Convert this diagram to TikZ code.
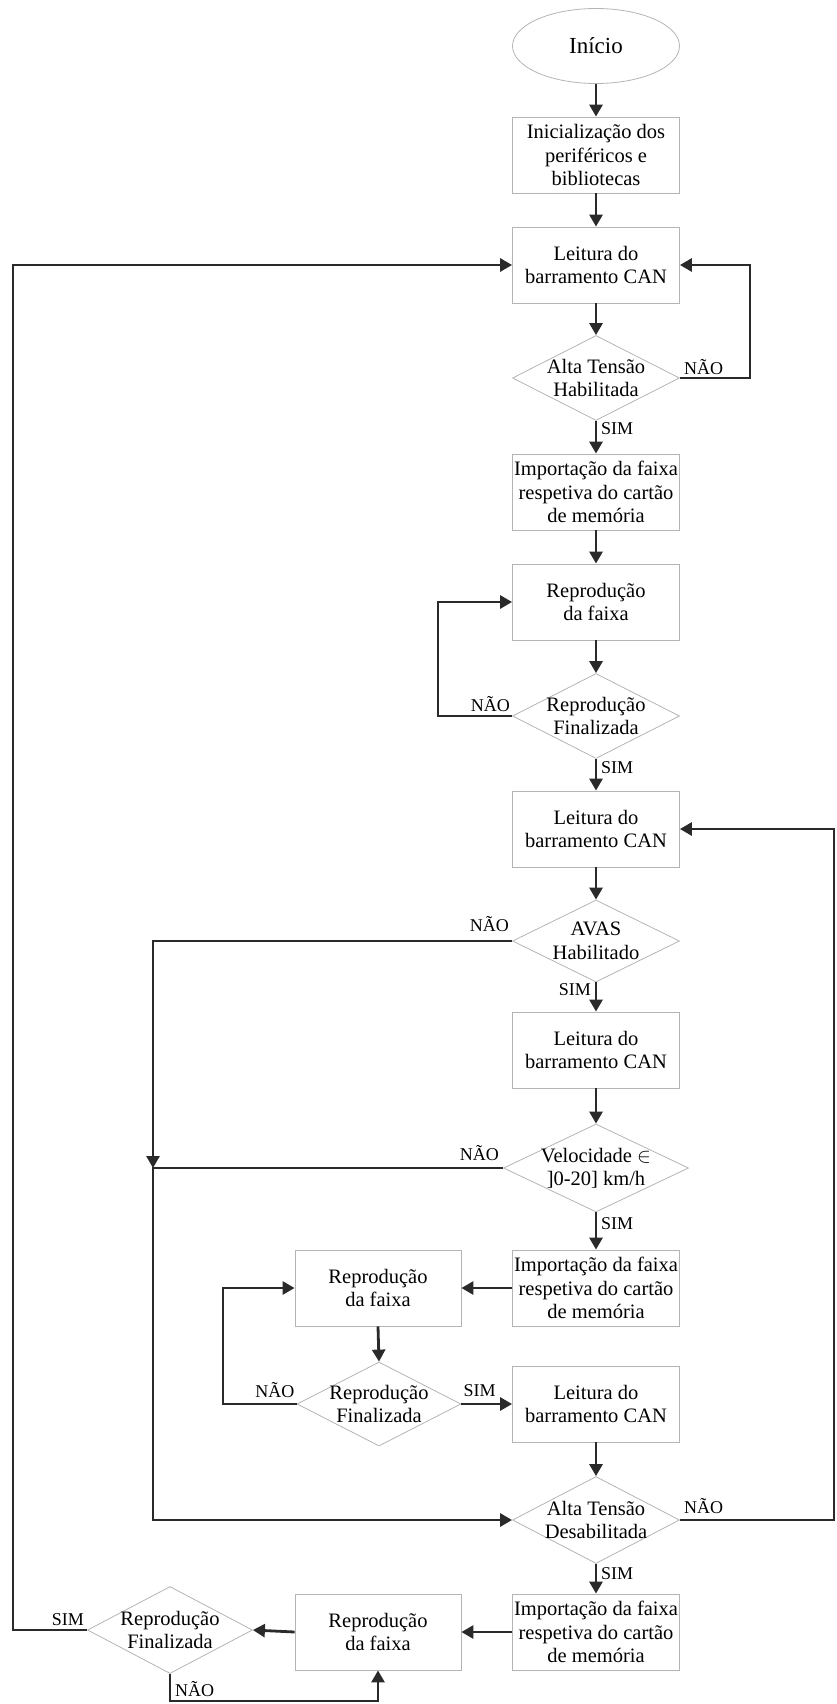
\documentclass[tikz,border=0pt]{standalone}
\usepackage{fontspec}
\setmainfont{Liberation Serif}
\usetikzlibrary{shapes.geometric,arrows.meta,calc}
\definecolor{conncol}{HTML}{2A2A2A}
\definecolor{bordcol}{HTML}{B4B4B4}
\begin{document}
\begin{tikzpicture}[x=1pt,y=-1pt,
  box/.style={draw=bordcol,line width=0.8pt,minimum width=167pt,minimum height=76pt,inner sep=0pt,align=center,font=\fontsize{20.5}{23.5}\selectfont},
  dia/.style={draw=bordcol,line width=0.8pt,diamond,inner sep=0pt,minimum width=167pt,minimum height=85pt},
  dtext/.style={align=center,inner sep=0pt,font=\fontsize{20.5}{23.5}\selectfont},
  lab/.style={inner sep=0pt,font=\fontsize{18}{20}\selectfont},
  conn/.style={draw=conncol,line width=2.8pt,-{Triangle[length=12pt,width=13pt]}},
  plain/.style={draw=conncol,line width=2.8pt}]
\useasboundingbox (0,0) rectangle (836,1704);
% nodes
\node[draw=bordcol,line width=0.8pt,ellipse,minimum width=167pt,minimum height=75pt,inner sep=0pt,font=\fontsize{23}{26}\selectfont] (e) at (596,46) {Início};
\node[box] (init) at (596,155) {Inicialização dos\\periféricos e\\bibliotecas};
\node[box] (l1) at (596,265) {Leitura do\\barramento CAN};
\node[dia] (d1) at (596,378) {};
\node[dtext] (d1t) at (d1.center) {Alta Tensão\\Habilitada};
\node[box] (imp1) at (596,492) {Importação da faixa\\respetiva do cartão\\de memória};
\node[box] (rep1) at (596,602) {Reprodução\\da faixa};
\node[dia] (d2) at (596,716) {};
\node[dtext] (d2t) at (d2.center) {Reprodução\\Finalizada};
\node[box] (l2) at (596,829) {Leitura do\\barramento CAN};
\node[dia,minimum height=82pt] (avas) at (596,941) {};
\node[dtext] (avast) at (avas.center) {AVAS\\Habilitado};
\node[box] (l3) at (596,1050) {Leitura do\\barramento CAN};
\node[dia,minimum width=185pt,minimum height=88pt] (vel) at (596,1168) {};
\node[dtext] (velt) at (vel.center) {Velocidade $\in$\\{]0-20] km/h}};
\node[box] (imp2) at (596,1288) {Importação da faixa\\respetiva do cartão\\de memória};
\node[box,minimum width=166pt] (rep2) at (378,1288) {Reprodução\\da faixa};
\node[dia,minimum width=164pt,minimum height=84pt] (d3) at (379,1404) {};
\node[dtext] (d3t) at (d3.center) {Reprodução\\Finalizada};
\node[box] (l4) at (596,1404) {Leitura do\\barramento CAN};
\node[dia,minimum height=87pt] (d5) at (596,1520) {};
\node[dtext] (d5t) at (d5.center) {Alta Tensão\\Desabilitada};
\node[box] (imp3) at (596,1632) {Importação da faixa\\respetiva do cartão\\de memória};
\node[box,minimum width=166pt] (rep3) at (378,1632) {Reprodução\\da faixa};
\node[dia,minimum width=165pt,minimum height=87pt] (d4) at (170,1630) {};
\node[dtext] (d4t) at (d4.center) {Reprodução\\Finalizada};
% helper coordinates
\coordinate (r1) at (750,378);
\coordinate (lp2) at (438,716);
\coordinate (jA) at (153,941);
\coordinate (jB) at (153,1168);
\coordinate (jC) at (153,1520);
\coordinate (lp3) at (223,1404);
\coordinate (rr) at (834,1520);
\coordinate (ll) at (13,1630);
\coordinate (bb) at (170,1701);
% connectors
\draw[conn] (e) -- (init);
\draw[conn] (init) -- (l1);
\draw[conn] (l1) -- (d1);
\draw[conn] (d1.east) -- (r1) |- (l1.east);
\draw[conn] (d1.south) -- (imp1);
\draw[conn] (imp1) -- (rep1);
\draw[conn] (rep1) -- (d2);
\draw[conn] (d2.west) -- (lp2) |- (rep1.west);
\draw[conn] (d2.south) -- (l2);
\draw[conn] (l2) -- (avas);
\draw[conn] (avas.west) -- (jA) -- (jB);
\draw[conn] (avas.south) -- (l3);
\draw[conn] (l3) -- (vel);
\draw[conn] (vel.west) -- (jB) -- (jC) -- (d5.west);
\draw[conn] (vel.south) -- (imp2);
\draw[conn] (imp2.west) -- (rep2.east);
\draw[conn] (rep2.south) -- (d3.north);
\draw[conn] (d3.west) -- (lp3) |- (rep2.west);
\draw[conn] (d3.east) -- (l4.west);
\draw[conn] (l4) -- (d5);
\draw[conn] (d5.east) -- (rr) |- (l2.east);
\draw[conn] (d5.south) -- (imp3);
\draw[conn] (imp3.west) -- (rep3.east);
\draw[conn] (rep3.west) -- (d4.east);
\draw[conn] (d4.west) -- (ll) |- (l1.west);
\draw[conn] (d4.south) -- (bb) -| (rep3.south);
% labels
\node[lab,anchor=south west] (n1) at ($(d1.east)+(4,-3)$) {NÃO};
\node[lab,anchor=north west] (s1) at ($(d1.south)+(5,1)$) {SIM};
\node[lab,anchor=south east] (n2) at ($(d2.west)+(-2,-4)$) {NÃO};
\node[lab,anchor=north west] (s2) at ($(d2.south)+(5,2)$) {SIM};
\node[lab,anchor=south east] (n3) at ($(avas.west)+(-3,-9)$) {NÃO};
\node[lab,anchor=north east] (s3) at ($(avas.south)+(-5,1)$) {SIM};
\node[lab,anchor=south east] (n4) at ($(vel.west)+(-4,-7)$) {NÃO};
\node[lab,anchor=north west] (s4) at ($(vel.south)+(5,5)$) {SIM};
\node[lab,anchor=south east] (n5) at ($(d3.west)+(-2,-6)$) {NÃO};
\node[lab,anchor=south west] (s5) at ($(d3.east)+(2,-7)$) {SIM};
\node[lab,anchor=south west] (n6) at ($(d5.east)+(4,-6)$) {NÃO};
\node[lab,anchor=north west] (s6) at ($(d5.south)+(5,3)$) {SIM};
\node[lab,anchor=south east] (s7) at ($(d4.west)+(-3,-4)$) {SIM};
\node[lab,anchor=west] (n7) at ($(d4.south)+(5,15)$) {NÃO};
\end{tikzpicture}
\end{document}
